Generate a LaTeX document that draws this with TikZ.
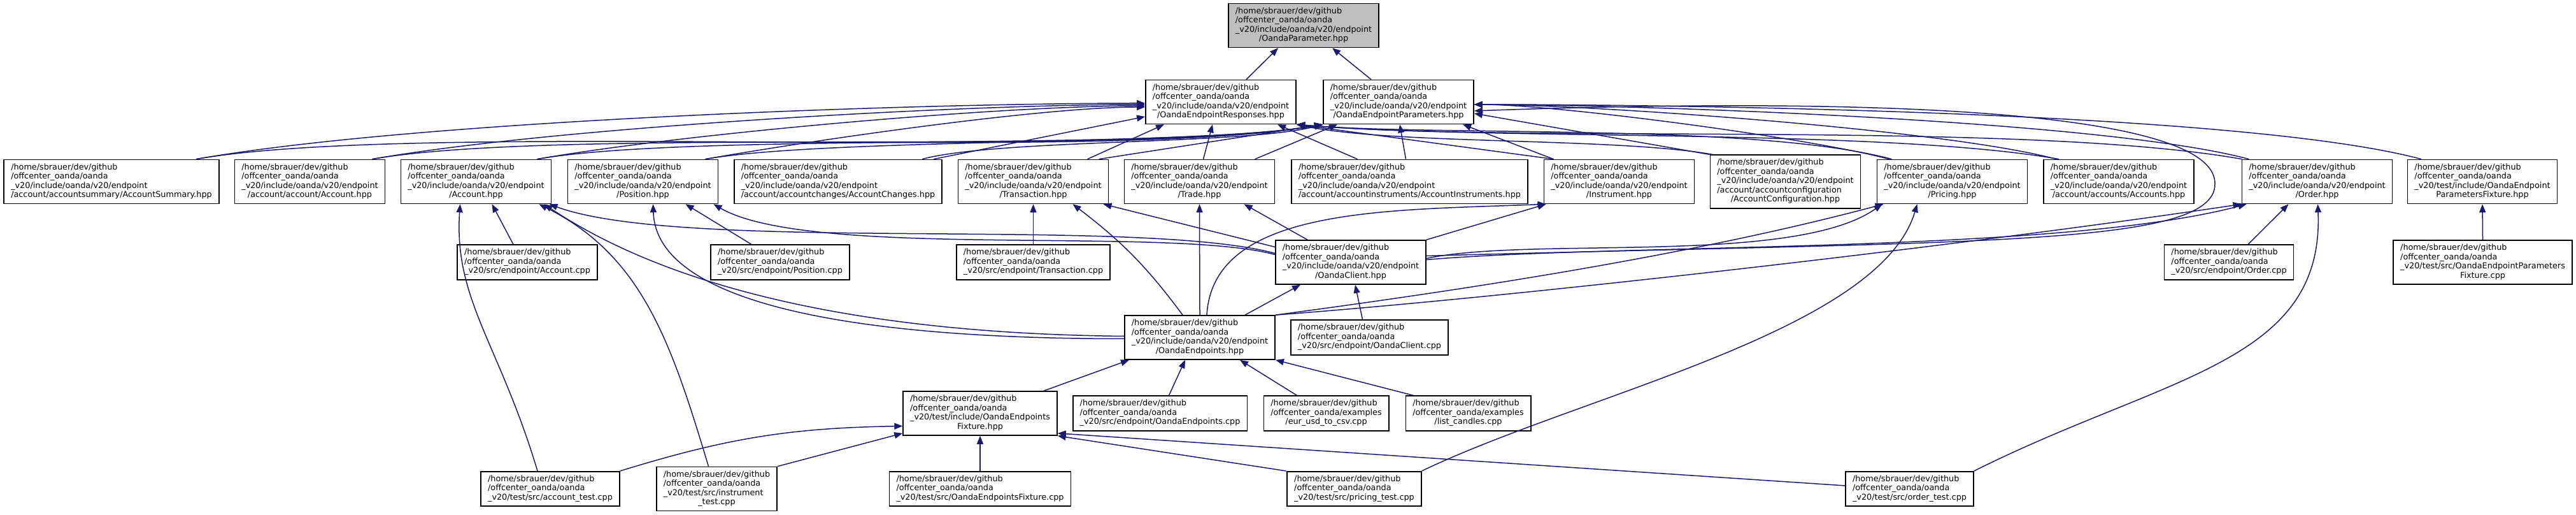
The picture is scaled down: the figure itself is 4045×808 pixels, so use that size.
\documentclass[tikz,border=0pt]{standalone}
\usepackage{fontspec}
\setmainfont{DejaVu Sans}
\usetikzlibrary{arrows.meta}
\definecolor{edgeblue}{RGB}{25,25,112}
\definecolor{rootgray}{RGB}{191,191,191}
\newcommand{\homepath}{/home/sbrauer/dev/github\\/offcenter\_oanda/oanda}
\newcommand{\incpath}{\homepath\\\_v20/include/oanda/v20/endpoint}
\newcommand{\flabel}[2]{\begin{tabular}{@{}l@{}}#1\\\multicolumn{1}{@{}c@{}}{#2}\end{tabular}}
\begin{document}
\begin{tikzpicture}[
    x=1pt, y=1pt,
    filebox/.style={draw, line width=1.6pt, fill=white, inner xsep=11pt, inner ysep=5.5pt, font=\fontsize{12.8pt}{14.5pt}\selectfont},
    rootbox/.style={filebox, fill=rootgray},
    dep/.style={draw=edgeblue, line width=1.5pt, -{Triangle[length=13pt,width=10pt]}}
]
\useasboundingbox (0,0) rectangle (4045,808);
\node[rootbox] (root) at (2047,768) {\flabel{\incpath}{/OandaParameter.hpp}};
\node[filebox] (resp) at (1917,648) {\flabel{\incpath}{/OandaEndpointResponses.hpp}};
\node[filebox] (parm) at (2196,648) {\flabel{\incpath}{/OandaEndpointParameters.hpp}};
% headers
\node[filebox] (accsum) at (175,523) {\flabel{\incpath}{/account/accountsummary/AccountSummary.hpp}};
\node[filebox] (accacc) at (486.5,523) {\flabel{\incpath}{/account/account/Account.hpp}};
\node[filebox] (acct) at (747.5,523) {\flabel{\incpath}{/Account.hpp}};
\node[filebox] (posn) at (1009.5,523) {\flabel{\incpath}{/Position.hpp}};
\node[filebox] (accchg) at (1316,523) {\flabel{\incpath}{/account/accountchanges/AccountChanges.hpp}};
\node[filebox] (trans) at (1622.5,523) {\flabel{\incpath}{/Transaction.hpp}};
\node[filebox] (trade) at (1883.5,523) {\flabel{\incpath}{/Trade.hpp}};
\node[filebox] (accinst) at (2213.5,523) {\flabel{\incpath}{/account/accountinstruments/AccountInstruments.hpp}};
\node[filebox] (instr) at (2542.5,523) {\flabel{\incpath}{/Instrument.hpp}};
\node[filebox] (acccfg) at (2803.5,523) {\flabel{\incpath\\/account/accountconfiguration}{/AccountConfiguration.hpp}};
\node[filebox] (pricing) at (3065.5,523) {\flabel{\incpath}{/Pricing.hpp}};
\node[filebox] (accts) at (3327,523) {\flabel{\incpath}{/account/accounts/Accounts.hpp}};
\node[filebox] (order) at (3638.5,523) {\flabel{\incpath}{/Order.hpp}};
\node[filebox] (pfixh) at (3898,523) {\flabel{\homepath\\\_v20/test/include/OandaEndpoint}{ParametersFixture.hpp}};
% sources and client
\node[filebox] (acctcpp) at (828,396.5) {\flabel{\homepath}{\_v20/src/endpoint/Account.cpp}};
\node[filebox] (posncpp) at (1225,396.5) {\flabel{\homepath}{\_v20/src/endpoint/Position.cpp}};
\node[filebox] (transcpp) at (1622.5,396.5) {\flabel{\homepath}{\_v20/src/endpoint/Transaction.cpp}};
\node[filebox] (client) at (2121,396.5) {\flabel{\incpath}{/OandaClient.hpp}};
\node[filebox] (ordercpp) at (3500,396.5) {\flabel{\homepath}{\_v20/src/endpoint/Order.cpp}};
\node[filebox] (pfixcpp) at (3898.5,396.5) {\flabel{\homepath\\\_v20/test/src/OandaEndpointParameters}{Fixture.cpp}};
\node[filebox] (endpts) at (1884,278.5) {\flabel{\incpath}{/OandaEndpoints.hpp}};
\node[filebox] (clientcpp) at (2150.5,278.5) {\flabel{\homepath}{\_v20/src/endpoint/OandaClient.cpp}};
\node[filebox] (efixh) at (1539,159.5) {\flabel{\homepath\\\_v20/test/include/OandaEndpoints}{Fixture.hpp}};
\node[filebox] (endptscpp) at (1821.5,159.5) {\flabel{\homepath}{\_v20/src/endpoint/OandaEndpoints.cpp}};
\node[filebox] (eurusd) at (2082.5,159.5) {\flabel{/home/sbrauer/dev/github\\/offcenter\_oanda/examples}{/eur\_usd\_to\_csv.cpp}};
\node[filebox] (candles) at (2305.5,159.5) {\flabel{/home/sbrauer/dev/github\\/offcenter\_oanda/examples}{/list\_candles.cpp}};
% tests
\node[filebox] (acctest) at (864,41) {\flabel{\homepath}{\_v20/test/src/account\_test.cpp}};
\node[filebox] (instest) at (1125.5,41) {\flabel{\homepath\\\_v20/test/src/instrument}{\_test.cpp}};
\node[filebox] (efixcpp) at (1539,41) {\flabel{\homepath}{\_v20/test/src/OandaEndpointsFixture.cpp}};
\node[filebox] (pricetest) at (2126.5,41) {\flabel{\homepath}{\_v20/test/src/pricing\_test.cpp}};
\node[filebox] (ordertest) at (2998.5,41) {\flabel{\homepath}{\_v20/test/src/order\_test.cpp}};

% top level
\draw[dep] ([xshift=40pt]resp.north) -- ([xshift=-40pt]root.south);
\draw[dep] ([xshift=-43pt]parm.north) -- ([xshift=45pt]root.south);
% headers into responses / parameters
\foreach \src/\dx/\dy/\len in {accsum/133/-2/350, accacc/98/-4/286, acct/96/-6/226, posn/98/-8/164}
  \draw[dep] ([xshift=\dx pt]\src.north) .. controls +({\len},{0.176*\len}) and +({-\len},0) .. ([yshift=\dy pt]resp.west);
\foreach \src/\dx/\len in {accsum/133/346, accacc/98/292, acct/96/242, posn/98/190}
  \draw[dep] ([xshift=\dx pt]\src.north) .. controls +({\len},{0.176*\len}) and +({-\len},{-0.176*\len}) .. (parm.south west);
\draw[dep] ([xshift=150pt]accchg.north) -- ([yshift=-23pt]resp.west);
\draw[dep] ([xshift=132pt]accchg.north) .. controls +(120,32) and +(-120,-32) .. (parm.south west);
\draw[dep] ([xshift=85pt]trans.north) -- ([xshift=-89pt]resp.south);
\draw[dep] ([xshift=103pt]trans.north) -- (parm.south west);
\draw[dep] ([xshift=6pt]trade.north) -- ([xshift=-13pt]resp.south);
\draw[dep] ([xshift=87pt]trade.north) -- ([xshift=-96pt]parm.south);
\draw[dep] ([xshift=-82pt]accinst.north) -- ([xshift=89pt]resp.south);
\draw[dep] ([xshift=-6pt]accinst.north) -- ([xshift=2pt]parm.south);
\draw[dep] ([xshift=-103pt]instr.north) -- (resp.south east);
\draw[dep] ([xshift=-103pt]instr.north) -- ([xshift=101pt]parm.south);
\draw[dep] (acccfg.north west) -- ([yshift=-18pt]parm.east);
\draw[dep] ([xshift=5pt]acccfg.north west) .. controls +(-152,27) and +(151,-32) .. (resp.south east);
\foreach \src/\dx/\len in {pricing/-99/129, accts/-98/180, order/-107/239, pfixh/-96/292}
  \draw[dep] ([xshift=\dx pt]\src.north) .. controls +({-0.966*\len},{0.259*\len}) and +({\len},0) .. ([yshift=-4pt]parm.east);
\draw[dep] ([xshift=-95pt]pricing.north) .. controls +(-213,57) and +(219,-19) .. (resp.south east);
\draw[dep] ([xshift=-94pt]accts.north) .. controls +(-278,49) and +(281,-25) .. (resp.south east);
\draw[dep] ([xshift=-118pt]order.north) .. controls +(-344,61) and +(348,-30) .. (resp.south east);
% client
\draw[dep] ([yshift=10pt]client.east) .. controls +(860,24) and +(2,-100) .. (3478,520) .. controls +(0,120) and +(585,21) .. ([yshift=-14pt]parm.east);
\draw[dep] ([yshift=14pt]client.west) .. controls +(-216,58) and +(210,-77) .. ([xshift=-4pt]acct.south east);
\draw[dep] ([yshift=12pt]client.west) .. controls +(-167,45) and +(150,-87) .. ([xshift=-8pt]posn.south east);
\draw[dep] ([yshift=24pt]client.west) -- ([xshift=110pt]trans.south);
\draw[dep] ([xshift=-68pt]client.north) -- ([xshift=70pt]trade.south);
\draw[dep] (client.north east) -- ([xshift=-115pt]instr.south);
\draw[dep] ([yshift=6pt]client.east) .. controls +(165,35) and +(-138,-97) .. ([xshift=-110pt]pricing.south);
\draw[dep] ([yshift=4pt]client.east) .. controls +(302,26) and +(-293,-78) .. ([xshift=8pt]order.south west);
% endpoints
\draw[dep] ([yshift=2pt]endpts.west) .. controls +(-500,5) and +(150,-100) .. ([xshift=-12pt]acct.south east);
\draw[dep] ([yshift=-2pt]endpts.west) .. controls +(-450,0) and +(5,-150) .. ([xshift=16pt]posn.south);
\draw[dep] ([xshift=-27pt]endpts.north) .. controls +(-57,77) and +(76,-58) .. ([xshift=62pt]trans.south);
\draw[dep] (endpts.north) -- (trade.south);
\draw[dep] ([xshift=11pt]endpts.north) .. controls +(10,170) and +(-250,-10) .. ([xshift=-115pt]instr.south);
\draw[dep] ([xshift=71pt]endpts.north) -- ([xshift=-79pt]client.south);
\draw[dep] (endpts.north east) .. controls +(300,40) and +(-300,-80) .. ([xshift=-108pt]pricing.south);
\draw[dep] (endpts.north east) .. controls +(400,30) and +(-400,-60) .. (order.south west);
% sources
\draw[dep] ([xshift=-22pt]acctcpp.north) -- ([xshift=25pt]acct.south);
\draw[dep] ([xshift=-45pt]posncpp.north) -- ([xshift=67pt]posn.south);
\draw[dep] (transcpp.north) -- (trans.south);
\draw[dep] ([xshift=30pt]ordercpp.north) -- ([xshift=-45pt]order.south);
\draw[dep] (pfixcpp.north) -- (pfixh.south);
\draw[dep] ([xshift=-11pt]clientcpp.north) -- ([xshift=7pt]client.south);
\draw[dep] ([xshift=100pt]efixh.north) -- ([xshift=-111pt]endpts.south);
\draw[dep] ([xshift=14pt]endptscpp.north) -- ([xshift=-23pt]endpts.south);
\draw[dep] ([xshift=-46pt]eurusd.north) -- ([xshift=63pt]endpts.south);
\draw[dep] ([xshift=-86pt]candles.north) -- (endpts.south east);
% tests
\draw[dep] ([xshift=-20pt]acctest.north) .. controls +(-60,200) and +(-10,-150) .. ([xshift=-25pt]acct.south);
\draw[dep] ([xshift=-13pt]instest.north) .. controls +(-60,200) and +(160,-80) .. ([xshift=-20pt]acct.south east);
\draw[dep] (efixcpp.north) -- (efixh.south);
\draw[dep] ([xshift=-107pt]pricetest.north) -- (efixh.south east);
\draw[dep] ([yshift=5pt]ordertest.west) -- ([yshift=4pt]efixh.south east);
\draw[dep] (acctest.north east) .. controls +(169,52) and +(-176,-3) .. ([yshift=-20pt]efixh.west);
\draw[dep] (instest.north east) -- ([yshift=4pt]efixh.south west);
\draw[dep] (pricetest.north east) .. controls +(250,120) and +(-60,-200) .. ([xshift=-55pt]pricing.south);
\draw[dep] (ordertest.north east) .. controls +(300,150) and +(10,-250) .. ([xshift=1pt]order.south);
\end{tikzpicture}
\end{document}
